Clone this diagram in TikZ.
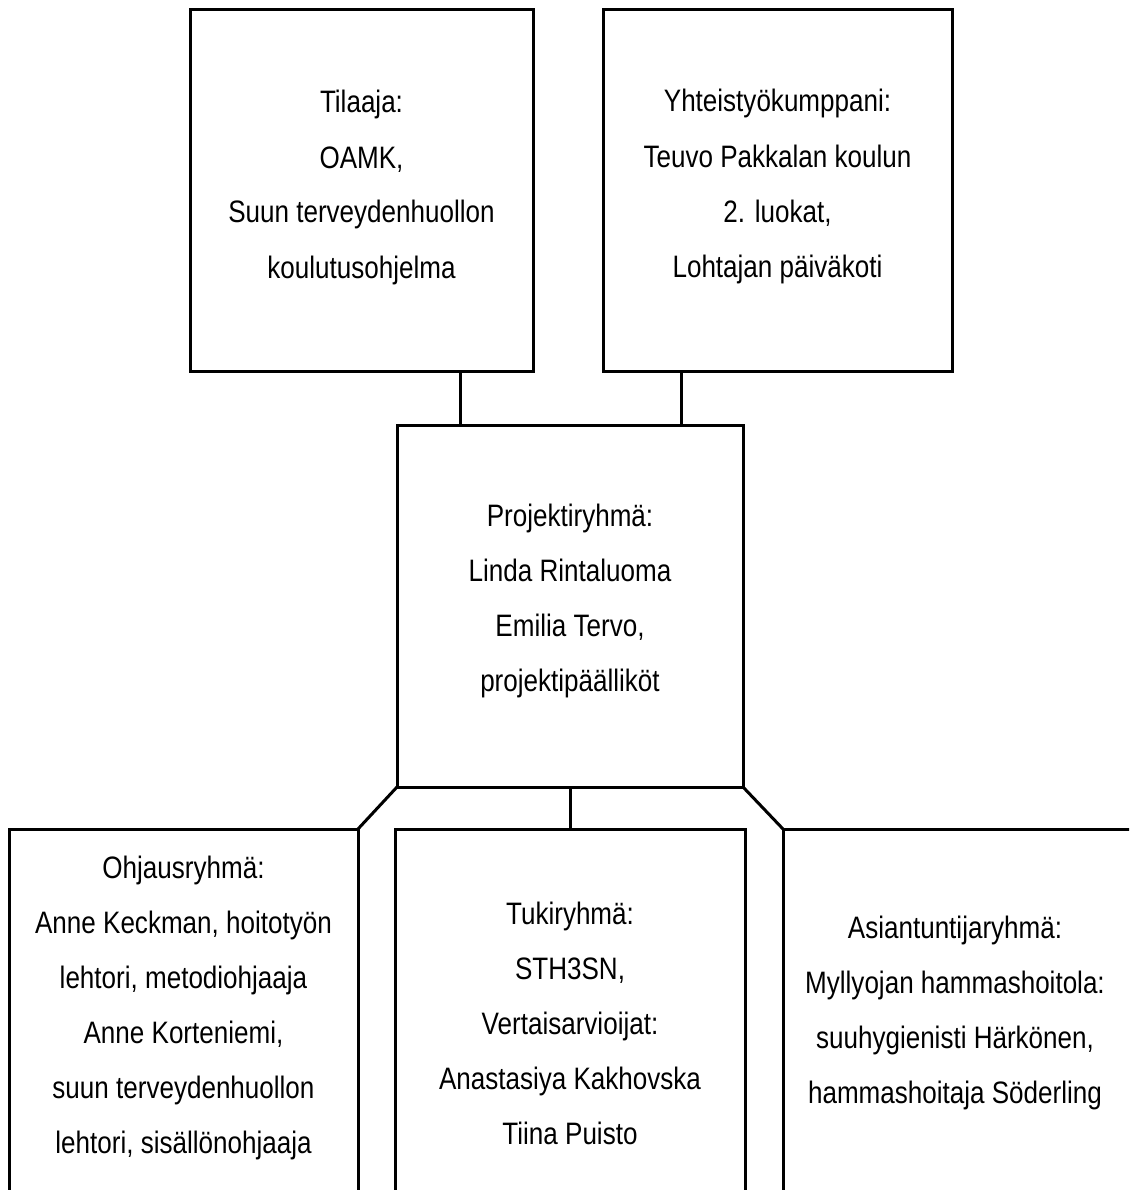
\documentclass[tikz,border=0pt]{standalone}
\usepackage{fontspec}
\setmainfont[FakeStretch=0.84]{Liberation Sans}
\begin{document}
\begin{tikzpicture}[x=1pt,y=-1pt]
\useasboundingbox (0,0) rectangle (1129,1190);
\clip (0,0) rectangle (1129,1190);
\begin{scope}[line width=3pt,
              block1/.style={rectangle,draw,inner sep=0pt,outer sep=0pt},
              block2/.style={align=center,anchor=north,inner sep=0pt,
                             font=\fontsize{31}{55}\selectfont}]
    \node [block1,minimum width=343pt,minimum height=361pt] (1) at (361.5,190.5) {};
    \node [block1,minimum width=349pt,minimum height=361pt] (2) at (777.5,190.5) {};
    \node [block1,minimum width=346pt,minimum height=362pt] (3) at (570,606) {};
    \node [block1,minimum width=349pt,minimum height=411pt] (4) at (183.5,1034.5) {};
    \node [block1,minimum width=350pt,minimum height=411pt] (5) at (570,1034.5) {};
    \node [block1,minimum width=350pt,minimum height=411pt] (6) at (958,1034.5) {};
    \node [block2] (t1) at (361.5,73) {\strut Tilaaja:\\ OAMK,\\ Suun terveydenhuollon\\ koulutusohjelma};
    \node [block2] (t2) at (777.5,72) {\strut Yhteistyökumppani:\\ Teuvo Pakkalan koulun\\ 2. luokat,\\ Lohtajan päiväkoti};
    \node [block2] (t3) at (570,486.5) {\strut Projektiryhmä:\\ Linda Rintaluoma\\ Emilia Tervo,\\ projektipäälliköt};
    \node [block2] (t4) at (183.5,838.5) {\strut Ohjausryhmä:\\ Anne Keckman, hoitotyön\\ lehtori, metodiohjaaja\\ Anne Korteniemi,\\ suun terveydenhuollon\\ lehtori, sisällönohjaaja};
    \node [block2] (t5) at (570,884) {\strut Tukiryhmä:\\ STH3SN,\\ Vertaisarvioijat:\\ Anastasiya Kakhovska\\ Tiina Puisto};
    \node [block2] (t6) at (955,898.5) {\strut Asiantuntijaryhmä:\\ Myllyojan hammashoitola:\\ suuhygienisti Härkönen,\\ hammashoitaja Söderling};
    \draw ([xshift=98.5pt]1.south) -- ([xshift=98.5pt]1.south |- 3.north);
    \draw ([xshift=-96.5pt]2.south) -- ([xshift=-96.5pt]2.south |- 3.north);
    \draw (3.south west) -- (4.north east);
    \draw (3.south) -- (5.north);
    \draw (3.south east) -- (6.north west);
\end{scope}
\end{tikzpicture}
\end{document}
